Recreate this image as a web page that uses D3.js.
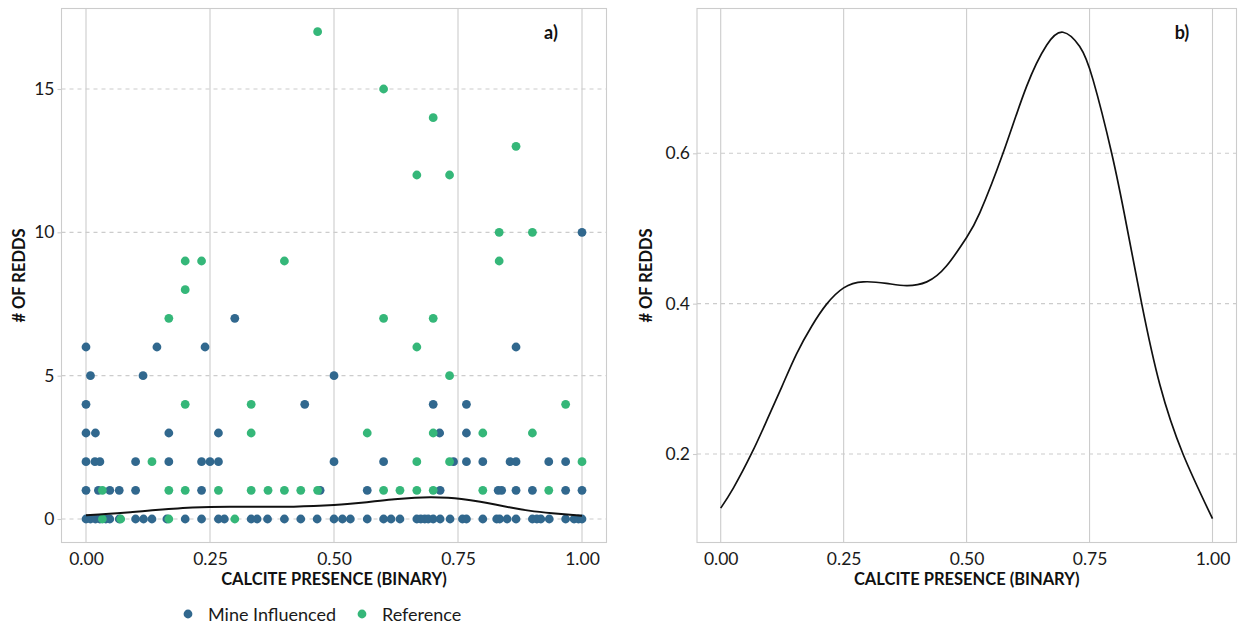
<!DOCTYPE html>
<html>
<head>
<meta charset="utf-8">
<script src="https://cdn.jsdelivr.net/npm/d3@7"></script>
<style>
  html, body { margin: 0; padding: 0; background: #ffffff; }
  svg { display: block; font-family: Lato, "Open Sans", sans-serif; }
</style>
</head>
<body>
<svg id="chart" width="1239" height="626"></svg>
<script>
// ---------- DATA ----------
// Mine Influenced observations: [calcite presence, # of redds]
const mineInfluenced = [
  [1.000,10],
  [0.300,7],
  [0.000,6],[0.143,6],[0.240,6],[0.867,6],
  [0.009,5],[0.115,5],[0.500,5],
  [0.000,4],[0.441,4],[0.700,4],[0.767,4],
  [0.000,3],[0.019,3],[0.167,3],[0.267,3],[0.713,3],[0.767,3],
  [0.000,2],[0.018,2],[0.028,2],[0.100,2],[0.167,2],[0.233,2],[0.250,2],[0.267,2],[0.500,2],
  [0.600,2],[0.741,2],[0.767,2],[0.800,2],[0.855,2],[0.867,2],[0.933,2],[0.967,2],
  [0.000,1],[0.025,1],[0.048,1],[0.067,1],[0.100,1],[0.233,1],[0.472,1],[0.567,1],[0.714,1],
  [0.831,1],[0.838,1],[0.867,1],[0.900,1],[0.967,1],[1.000,1],
  [0.000,0],[0.009,0],[0.019,0],[0.028,0],[0.040,0],[0.048,0],[0.067,0],[0.100,0],[0.116,0],
  [0.133,0],[0.163,0],[0.200,0],[0.233,0],[0.267,0],[0.279,0],[0.333,0],[0.345,0],[0.366,0],
  [0.400,0],[0.433,0],[0.466,0],[0.500,0],[0.517,0],[0.533,0],[0.567,0],[0.600,0],[0.615,0],
  [0.633,0],[0.667,0],[0.675,0],[0.683,0],[0.690,0],[0.700,0],[0.714,0],[0.734,0],[0.759,0],
  [0.767,0],[0.800,0],[0.828,0],[0.834,0],[0.849,0],[0.867,0],[0.900,0],[0.909,0],[0.917,0],
  [0.934,0],[0.967,0],[0.984,0],[0.993,0],[1.000,0]
];
// Reference observations
const reference = [
  [0.467,17],
  [0.600,15],
  [0.700,14],
  [0.867,13],
  [0.667,12],[0.733,12],
  [0.833,10],[0.900,10],
  [0.200,9],[0.233,9],[0.400,9],[0.833,9],
  [0.200,8],
  [0.167,7],[0.600,7],[0.700,7],
  [0.667,6],
  [0.733,5],
  [0.200,4],[0.333,4],[0.967,4],
  [0.333,3],[0.567,3],[0.700,3],[0.800,3],[0.900,3],
  [0.133,2],[0.667,2],[0.733,2],[1.000,2],
  [0.033,1],[0.167,1],[0.200,1],[0.267,1],[0.333,1],[0.367,1],[0.400,1],[0.433,1],[0.467,1],
  [0.600,1],[0.633,1],[0.667,1],[0.700,1],[0.800,1],[0.933,1],
  [0.033,0],[0.070,0],[0.167,0],[0.300,0]
];
// Smoothed curve: [calcite presence, value]
const curveX = [0.000,0.026,0.063,0.094,0.124,0.154,0.185,0.215,0.250,0.290,0.337,0.378,0.419,0.459,0.500,0.527,0.574,0.622,0.663,0.696,0.730,0.757,0.795,0.825,0.856,0.893,0.940,1.000];
const curveY = [0.128,0.155,0.201,0.245,0.289,0.333,0.370,0.399,0.421,0.429,0.427,0.424,0.429,0.450,0.488,0.521,0.600,0.689,0.744,0.761,0.742,0.698,0.600,0.505,0.400,0.292,0.200,0.114];

const xTicks = [0, 0.25, 0.5, 0.75, 1];
const xTickLabels = ["0.00", "0.25", "0.50", "0.75", "1.00"];
const yTicksA = [0, 5, 10, 15];
const yTicksB = [0.2, 0.4, 0.6];
const seriesNames = ["Mine Influenced", "Reference"];
const seriesColors = ["#31688e", "#35b779"];
const xTitle = "CALCITE PRESENCE (BINARY)";
const yTitle = "# OF REDDS";
const panelLabels = ["a)", "b)"];

// ---------- LAYOUT ----------
const svg = d3.select("#chart");
const gridCol = "#cccccc";
const plotTop = 8.5, plotBottom = 542.5;
const tickFont = 17.5, titleFont = 16.5;

function panel(opts) {
  const { left, right, xs, ys, yTicks, yFmt, label, labelX } = opts;
  const g = svg.append("g");
  g.selectAll(".vg").data(xTicks).join("line")
    .attr("x1", d => xs(d)).attr("x2", d => xs(d))
    .attr("y1", plotTop).attr("y2", plotBottom)
    .attr("stroke", gridCol).attr("stroke-width", 1.1);
  g.selectAll(".hg").data(yTicks).join("line")
    .attr("x1", left).attr("x2", right)
    .attr("y1", d => ys(d)).attr("y2", d => ys(d))
    .attr("stroke", gridCol).attr("stroke-width", 1.1)
    .attr("stroke-dasharray", "4,4");
  g.append("rect").attr("x", left).attr("y", plotTop)
    .attr("width", right - left).attr("height", plotBottom - plotTop)
    .attr("fill", "none").attr("stroke", gridCol).attr("stroke-width", 1.1);
  const yAxis = d3.axisLeft(ys).tickValues(yTicks).tickFormat(yFmt).tickSize(4).tickPadding(3);
  const ya = g.append("g").attr("transform", `translate(${left},0)`).call(yAxis);
  ya.select(".domain").remove();
  ya.selectAll(".tick line").attr("stroke", gridCol).attr("stroke-width", 1.1);
  ya.selectAll(".tick text").attr("font-size", tickFont).attr("fill", "#1a1a1a")
    .attr("font-family", "Lato, sans-serif");
  const xAxis = d3.axisBottom(xs).tickValues(xTicks)
    .tickFormat((d, i) => xTickLabels[i]).tickSize(0).tickPadding(10);
  const xa = g.append("g").attr("transform", `translate(0,${plotBottom})`).call(xAxis);
  xa.select(".domain").remove();
  xa.selectAll(".tick text").attr("font-size", tickFont).attr("fill", "#1a1a1a")
    .attr("font-family", "Lato, sans-serif");
  g.append("text").attr("x", (left + right) / 2).attr("y", 585)
    .attr("text-anchor", "middle").attr("font-size", titleFont).attr("font-weight", "bold")
    .attr("fill", "#111").text(xTitle);
  g.append("text")
    .attr("transform", `translate(${opts.yTitleX},${(plotTop + plotBottom) / 2}) rotate(-90)`)
    .attr("text-anchor", "middle").attr("font-size", titleFont).attr("font-weight", "bold")
    .attr("fill", "#111").text(yTitle);
  g.append("text").attr("x", labelX).attr("y", 39).attr("text-anchor", "middle")
    .attr("font-size", 18).attr("font-weight", "bold").attr("fill", "#111").text(label);
  return g;
}

// Panel a
const xA = d3.scaleLinear().domain([0, 1]).range([86, 582]);
const yA = d3.scaleLinear().domain([0, 15]).range([519, 89]);
const gA = panel({ left: 61.5, right: 606.5, xs: xA, ys: yA, yTicks: yTicksA,
  yFmt: d3.format("d"), label: panelLabels[0], labelX: 551, yTitleX: 25 });

const lineA = d3.line().x((d, i) => xA(curveX[i])).y((d, i) => yA(curveY[i]))
  .curve(d3.curveNatural);

const pts = mineInfluenced.map(d => ({ x: d[0], y: d[1], s: 0 }))
  .concat(reference.map(d => ({ x: d[0], y: d[1], s: 1 })));
gA.selectAll(".pt").data(pts).join("circle")
  .attr("cx", d => xA(d.x)).attr("cy", d => yA(d.y)).attr("r", 4.4)
  .attr("fill", d => seriesColors[d.s]);
gA.append("path").datum(curveX).attr("d", lineA)
  .attr("fill", "none").attr("stroke", "#111").attr("stroke-width", 2);

// Panel b
const xB = d3.scaleLinear().domain([0, 1]).range([720.7, 1212.5]);
const yB = d3.scaleLinear().domain([0.2, 0.6]).range([454, 153.3]);
const gB = panel({ left: 697, right: 1236.5, xs: xB, ys: yB, yTicks: yTicksB,
  yFmt: d3.format(".1f"), label: panelLabels[1], labelX: 1182, yTitleX: 652 });
const lineB = d3.line().x((d, i) => xB(curveX[i])).y((d, i) => yB(curveY[i]))
  .curve(d3.curveNatural);
gB.append("path").datum(curveX).attr("d", lineB)
  .attr("fill", "none").attr("stroke", "#111").attr("stroke-width", 1.7);

// Legend
const legX = [188, 362];
const leg = svg.append("g");
seriesNames.forEach((name, i) => {
  leg.append("circle").attr("cx", legX[i]).attr("cy", 614).attr("r", 4.4).attr("fill", seriesColors[i]);
  leg.append("text").attr("x", legX[i] + 20).attr("y", 620.5).attr("font-size", 18)
    .attr("fill", "#1a1a1a").text(name);
});
</script>
</body>
</html>
